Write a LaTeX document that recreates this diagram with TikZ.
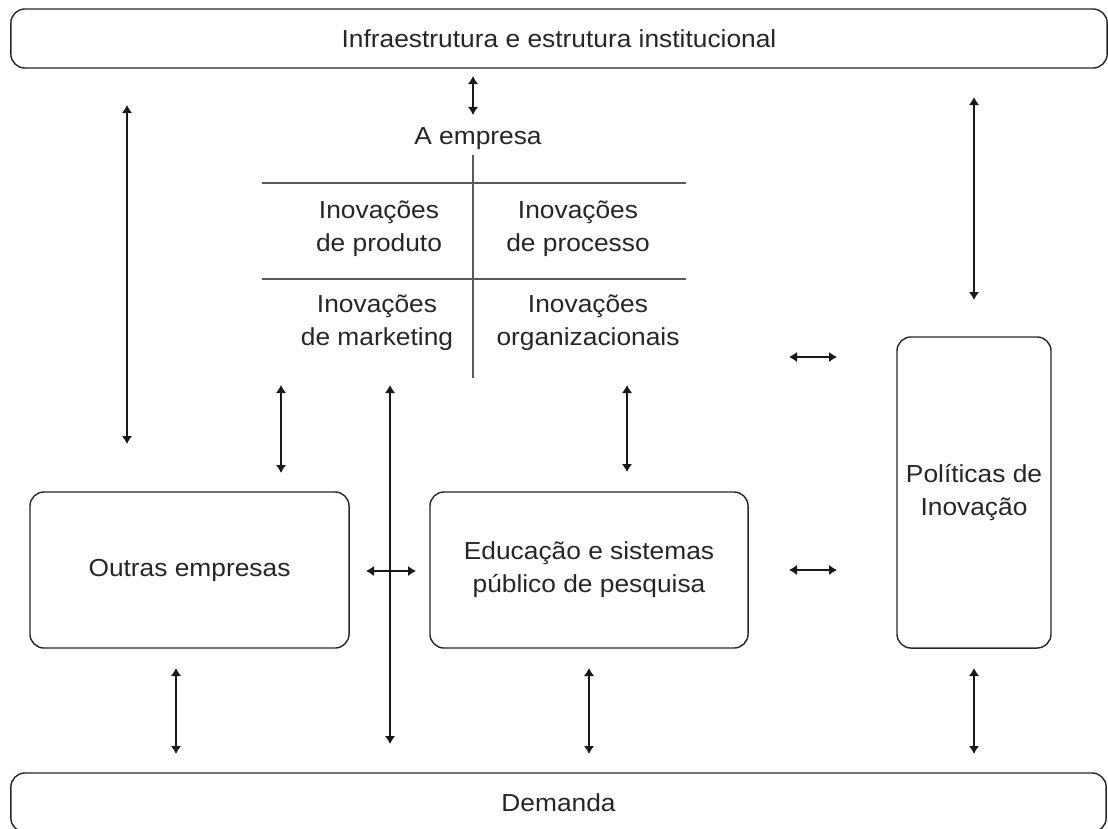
\documentclass[tikz,border=0pt]{standalone}
\usepackage{fontspec}
\setmainfont[FakeStretch=1.07]{Liberation Sans}
\usetikzlibrary{arrows.meta}

\begin{document}
\begin{tikzpicture}[x=0.025cm, y=-0.025cm,
        txt/.style={font=\fontsize{17.5}{23.5}\selectfont, align=center, text=black!85, inner sep=0pt},
        bar/.style={txt, draw=black!85, line width=1pt, rounded corners=0.35cm},
        link/.style={{Latex[length=2mm,width=2.6mm]}-{Latex[length=2mm,width=2.6mm]}, line width=1.1pt, black!90},
        cellline/.style={line width=1.4pt, black!65}]
        \clip (0,0) rectangle (1108,828);

        % Infrastructure and demand bars
        \node[bar, minimum width=27.4cm, minimum height=1.475cm] (infra) at (559,38.5) {Infraestrutura e estrutura institucional};
        \node[bar, minimum width=27.375cm, minimum height=1.475cm] (demanda) at (558.5,802.5) {Demanda};

        % The firm
        \node[txt] (empresa) at (478,139) {A empresa};
        \coordinate (gridtop) at (473,155);
        \coordinate (gridbot) at (473,378);
        \coordinate (row1l) at (262,183);
        \coordinate (row1r) at (686,183);
        \coordinate (row2l) at (262,279);
        \coordinate (row2r) at (686,279);
        \draw[cellline] (gridtop) -- (gridbot);
        \draw[cellline] (row1l) -- (row1r);
        \draw[cellline] (row2l) -- (row2r);
        \node[txt] (produto) at (379,229) {Inovações\\de produto};
        \node[txt] (processo) at (578,229) {Inovações\\de processo};
        \node[txt] (marketing) at (377,323) {Inovações\\de marketing};
        \node[txt] (organiz) at (588,323) {Inovações\\organizacionais};

        % Boxes
        \node[bar, minimum width=7.975cm, minimum height=3.9cm] (outras) at (189.5,570) {Outras empresas};
        \node[bar, minimum width=7.95cm, minimum height=3.9cm] (educacao) at (589,570) {Educação e sistemas\\público de pesquisa};
        \node[bar, minimum width=3.85cm, minimum height=7.775cm] (politicas) at (974,492.5) {Políticas de\\Inovação};

        % Interactions
        \foreach \n/\xa/\ya/\xb/\yb in {
                infrafirm/473/76/473/115, infraout/127/105/127/444, infrapol/974/97/974/300,
                firmout/281/385/281/473, firmdem/390/385/390/744, firmedu/627/385/627/472,
                firmpol/789/357/837/357, outedu/366/571/416/571, edupol/789/570/837/570,
                outdem/176/668/176/754, edudem/589/668/589/754, poldem/974/668/974/754} {
            \coordinate (\n-a) at (\xa,\ya);
            \coordinate (\n-b) at (\xb,\yb);
            \draw[link] (\n-a) -- (\n-b);
        }
\end{tikzpicture}
\end{document}
